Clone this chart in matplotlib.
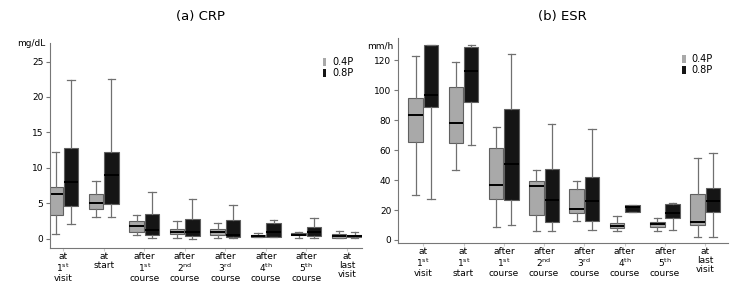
import matplotlib.pyplot as plt
from matplotlib.patches import Patch

plt.rcParams['font.family'] = 'DejaVu Sans'
plt.rcParams['mathtext.default'] = 'regular'

crp_labels = ["at\n1$^{st}$\nvisit", "at\nstart", "after\n1$^{st}$\ncourse", "after\n2$^{nd}$\ncourse",
              "after\n3$^{rd}$\ncourse", "after\n4$^{th}$\ncourse", "after\n5$^{th}$\ncourse", "at\nlast\nvisit"]
esr_labels = ["at\n1$^{st}$\nvisit", "at\n1$^{st}$\nstart", "after\n1$^{st}$\ncourse", "after\n2$^{nd}$\ncourse",
              "after\n3$^{rd}$\ncourse", "after\n4$^{th}$\ncourse", "after\n5$^{th}$\ncourse", "at\nlast\nvisit"]

# CRP (mg/dL): whisker low, Q1, median, Q3, whisker high
crp_04_lo = [0.65, 3.05, 0.47, 0.1, 0.1, 0.28, 0.15, 0.05]
crp_04_q1 = [3.4, 4.2, 0.9, 0.7, 0.56, 0.28, 0.47, 0.15]
crp_04_med = [6.3, 5.0, 1.8, 1.0, 0.95, 0.45, 0.6, 0.33]
crp_04_q3 = [7.3, 6.3, 2.45, 1.4, 1.35, 0.6, 0.8, 0.7]
crp_04_hi = [12.2, 8.2, 3.4, 2.45, 2.2, 0.8, 1.0, 1.1]

crp_08_lo = [2.07, 3.05, 0.1, 0.0, 0.1, 0.23, 0.15, 0.05]
crp_08_q1 = [4.65, 4.9, 0.47, 0.33, 0.23, 0.23, 0.4, 0.2]
crp_08_med = [8.0, 9.0, 1.27, 1.0, 0.56, 1.0, 0.95, 0.42]
crp_08_q3 = [12.8, 12.2, 3.5, 2.8, 2.7, 2.2, 1.65, 0.6]
crp_08_hi = [22.4, 22.5, 6.6, 5.6, 4.8, 2.6, 3.0, 1.0]

# ESR (mm/h)
esr_04_lo = [30, 46.6, 8.7, 5.8, 12.7, 5.8, 6.0, 1.8]
esr_04_q1 = [65.6, 64.7, 27.7, 16.5, 17.8, 7.8, 8.9, 10.3]
esr_04_med = [83.7, 78.5, 37, 35.9, 21, 9.1, 10.7, 11.8]
esr_04_q3 = [95, 102, 61.3, 39.7, 33.9, 11.2, 11.8, 30.8]
esr_04_hi = [123, 119.3, 75.8, 46.6, 39.7, 15.8, 15, 54.9]

esr_08_lo = [27.7, 63.6, 9.8, 5.8, 6.9, 19, 6.9, 1.8]
esr_08_q1 = [88.6, 92.3, 26.8, 11.8, 12.7, 19, 15, 18.5]
esr_08_med = [96.8, 112.9, 50.9, 26.5, 26, 21.9, 17.8, 26.3]
esr_08_q3 = [130, 128.7, 87.7, 47.7, 42.2, 23.4, 24.1, 34.8]
esr_08_hi = [130, 130, 124.5, 77.6, 74, 23.4, 25, 58]


def stats(lo, q1, med, q3, hi):
    return [dict(whislo=a, q1=b, med=c, q3=d, whishi=e, fliers=[])
            for a, b, c, d, e in zip(lo, q1, med, q3, hi)]


def draw(ax, s04, s08, labels, anchor):
    n = len(labels)
    for s, off, fc in [(s04, -0.19, '#a9a9a9'), (s08, 0.19, '#151515')]:
        ax.bxp(s, positions=[i + off for i in range(n)], widths=0.36,
               patch_artist=True, showfliers=False,
               boxprops=dict(facecolor=fc, edgecolor='#606060', linewidth=0.8),
               medianprops=dict(color='black', linewidth=1.4),
               whiskerprops=dict(color='#707070', linewidth=0.9),
               capprops=dict(color='#707070', linewidth=0.9),
               capwidths=0.18)
    ax.set_xticks(range(n))
    ax.set_xticklabels(labels, fontsize=6.5, linespacing=1.0)
    for sp in ['top', 'right']:
        ax.spines[sp].set_visible(False)
    for sp in ['left', 'bottom']:
        ax.spines[sp].set_color('#777777')
        ax.spines[sp].set_linewidth(0.8)
    ax.tick_params(axis='y', labelsize=6.5, length=3, color='#777777', pad=2)
    ax.tick_params(axis='x', length=2, color='#cccccc', pad=1)
    handles = [Patch(facecolor='#a9a9a9', edgecolor='none', label='0.4P'),
               Patch(facecolor='#151515', edgecolor='none', label='0.8P')]
    ax.legend(handles=handles, loc='upper right', frameon=False, fontsize=7,
              handlelength=0.35, handleheight=0.9, handletextpad=0.6,
              labelspacing=0.15, bbox_to_anchor=anchor)


fig = plt.figure(figsize=(7.5, 2.97), dpi=100)
ax1 = fig.add_axes([0.067, 0.165, 0.416, 0.69])
ax2 = fig.add_axes([0.531, 0.182, 0.44, 0.69])

draw(ax1, stats(crp_04_lo, crp_04_q1, crp_04_med, crp_04_q3, crp_04_hi),
     stats(crp_08_lo, crp_08_q1, crp_08_med, crp_08_q3, crp_08_hi), crp_labels, (1.0, 0.975))
ax1.set_ylim(-1.3, 27.6)
ax1.set_xlim(-0.32, 7.38)
ax1.set_yticks([0, 5, 10, 15, 20, 25])
ax1.text(-0.015, 1.0, "mg/dL", transform=ax1.transAxes, ha='right', va='center', fontsize=6.5)

draw(ax2, stats(esr_04_lo, esr_04_q1, esr_04_med, esr_04_q3, esr_04_hi),
     stats(esr_08_lo, esr_08_q1, esr_08_med, esr_08_q3, esr_08_hi), esr_labels, (0.98, 0.965))
ax2.set_ylim(-2, 135)
ax2.set_xlim(-0.62, 7.57)
ax2.set_yticks([0, 20, 40, 60, 80, 100, 120])
ax2.text(-0.015, 0.96, "mm/h", transform=ax2.transAxes, ha='right', va='center', fontsize=6.5)

fig.text(0.267, 0.943, "(a) CRP", ha='center', va='center', fontsize=9.5)
fig.text(0.75, 0.943, "(b) ESR", ha='center', va='center', fontsize=9.5)

fig.savefig('out.png', dpi=100)
